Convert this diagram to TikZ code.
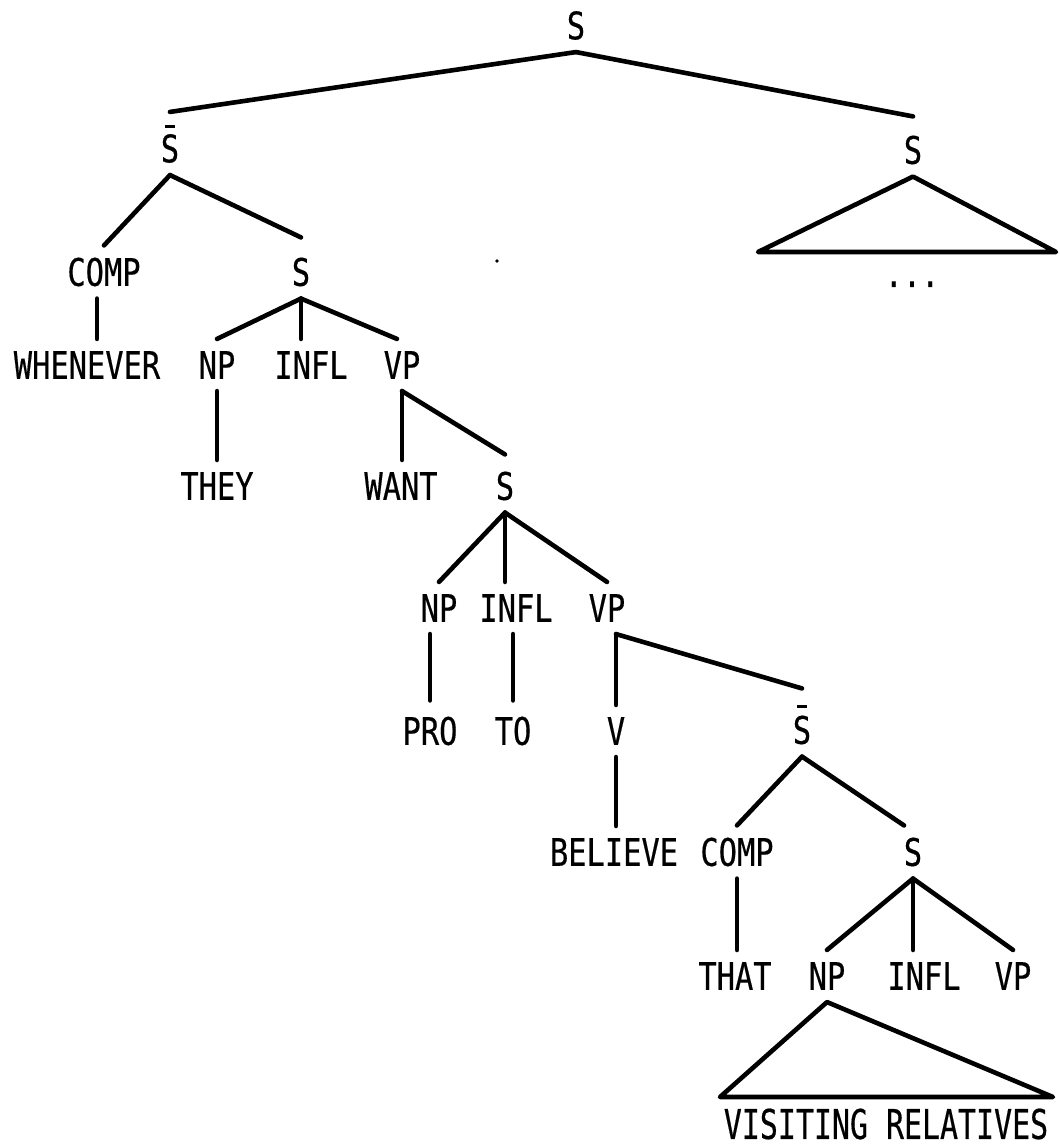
\documentclass[tikz,border=0pt]{standalone}
\usepackage{fontspec}
\newfontfamily\treefont[FakeStretch=0.8,FakeBold=0.4]{DejaVu Sans Mono}
\newfontfamily\treefontwide[FakeStretch=0.73,FakeBold=0.4]{DejaVu Sans Mono}
\begin{document}
\begin{tikzpicture}[x=1pt,y=-1pt,
  tn/.style={font=\treefont\fontsize{38pt}{40pt}\selectfont, inner xsep=0pt, inner ysep=12pt},
  br/.style={line width=4.6pt, line cap=round, line join=round},
  barline/.style={line width=3pt}]
\useasboundingbox (0,0) rectangle (1059,1147);
% nodes
\node[tn] (s0) at (576,25.5) {S};
\node[tn] (sb1) at (170,148.5) {S};
\node[tn] (sR) at (913,150) {S};
\node[tn, anchor=base] (dots) at (912,287) {...};
\node[tn] (comp2) at (104,272) {COMP};
\node[tn] (s2) at (301,272) {S};
\node[tn] (when) at (87,365) {WHENEVER};
\node[tn] (np3) at (217,365) {NP};
\node[tn] (infl3) at (311,365) {INFL};
\node[tn] (vp3) at (402,365) {VP};
\node[tn] (they) at (217,486) {THEY};
\node[tn] (want) at (401,486) {WANT};
\node[tn] (s4) at (505,486) {S};
\node[tn] (np5) at (439,608) {NP};
\node[tn] (infl5) at (516,608) {INFL};
\node[tn] (vp5) at (607,608) {VP};
\node[tn] (pro) at (430,731) {PRO};
\node[tn] (to) at (513,731) {TO};
\node[tn] (v6) at (616,731) {V};
\node[tn] (sb2) at (802,730) {S};
\node[tn] (bel) at (614,852) {BELIEVE};
\node[tn] (comp7) at (737,852) {COMP};
\node[tn] (s7) at (913,852) {S};
\node[tn] (that) at (735,976) {THAT};
\node[tn] (np8) at (827,976) {NP};
\node[tn] (infl8) at (924,976) {INFL};
\node[tn] (vp8) at (1013,976) {VP};
\node[tn, inner ysep=0pt, font=\treefontwide\fontsize{41pt}{43pt}\selectfont] (vis) at (886,1124) {VISITING RELATIVES};
\coordinate (tri1l) at (758,252);
\coordinate (tri1r) at (1056,252);
\coordinate (tri2l) at (720,1097);
\coordinate (tri2r) at (1053,1097);
% bars of S-bar
\draw[barline] ([xshift=-5pt,yshift=-4.5pt]sb1.north) -- ([xshift=5pt,yshift=-4.5pt]sb1.north);
\draw[barline] ([xshift=-5pt,yshift=-3pt]sb2.north) -- ([xshift=5pt,yshift=-3pt]sb2.north);
% speck
\fill (497,261) circle (1.8pt);
% connectors
\draw[br] (s0.south) -- ([yshift=10pt]sb1.north);
\draw[br] (s0.south) -- ([yshift=7pt]sR.north);
\draw[br] (sR.south) -- (tri1l) -- (tri1r) -- cycle;
\draw[br] (sb1.south) -- (comp2.north);
\draw[br] (sb1.south) -- ([yshift=8pt]s2.north);
\draw[br] ([xshift=-7pt]comp2.south) -- ([xshift=-7pt]comp2.south |- when.north);
\draw[br] (s2.south) -- (np3.north);
\draw[br] (s2.south) -- (s2.south |- infl3.north);
\draw[br] (s2.south) -- ([xshift=-5pt]vp3.north);
\draw[br] (np3.south) -- (they.north);
\draw[br] (vp3.south) -- (vp3.south |- want.north);
\draw[br] (vp3.south) -- ([yshift=5pt]s4.north);
\draw[br] (s4.south) -- (np5.north);
\draw[br] (s4.south) -- (s4.south |- infl5.north);
\draw[br] (s4.south) -- (vp5.north);
\draw[br] (pro.north |- np5.south) -- ([yshift=4pt]pro.north);
\draw[br] (to.north |- infl5.south) -- ([yshift=4pt]to.north);
\draw[br] (v6.north |- vp5.south) -- (v6.north);
\draw[br] (v6.north |- vp5.south) -- ([yshift=15pt]sb2.north);
\draw[br] (v6.south) -- (v6.south |- bel.north);
\draw[br] (sb2.south) -- (comp7.north);
\draw[br] (sb2.south) -- ([xshift=-9pt]s7.north);
\draw[br] (comp7.south) -- (comp7.south |- that.north);
\draw[br] (s7.south) -- (np8.north);
\draw[br] (s7.south) -- (s7.south |- infl8.north);
\draw[br] (s7.south) -- (vp8.north);
\draw[br] (np8.south) -- (tri2l) -- (tri2r) -- cycle;
\end{tikzpicture}
\end{document}
